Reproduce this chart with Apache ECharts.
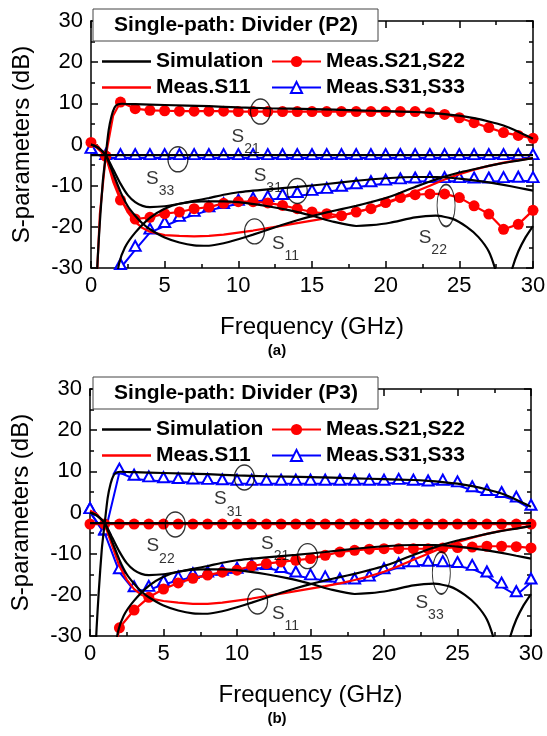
<!DOCTYPE html>
<html>
<head>
<meta charset="utf-8">
<script src="https://cdn.jsdelivr.net/npm/echarts@6/dist/echarts.min.js"></script>
<style>
html, body { margin: 0; padding: 0; background: #fff; }
#chart { width: 547px; height: 736px; }
</style>
</head>
<body>
<div id="chart"></div>
<script>
// simulated curves (same in both panels), [GHz, dB]
var simS21 = [[0.3,-40],[0.45,-28],[0.6,-19],[0.8,-9],[1,-2.6],[1.2,3.5],[1.4,7],[1.6,9],[1.8,9.7],[2.1,9.9],[3,9.8],[5,9.6],[8,9.3],[10,9],[12,8.8],[15,8.6],[18,8.3],[20,8.1],[22,7.9],[23,7.7],[24,7.4],[25,7],[26,6.4],[27,5.6],[28,4.6],[29,3.1],[30,1.4]];
var simFlat = [[0,-2.6],[30,-2.6]];
var simUpper = [[0,0],[0.5,-0.8],[1,-2.6],[1.5,-6],[2,-9.5],[2.5,-12.3],[3,-14],[3.5,-14.9],[4,-15.2],[5,-15],[6,-14.4],[7,-13.7],[8,-13],[9,-12.2],[10,-11.6],[12,-10.9],[14,-10.3],[16,-9.6],[18,-8.8],[20,-8.2],[22,-7.9],[23.5,-7.9],[25,-8.3],[26,-8.7],[27,-9.2],[28,-9.8],[29,-10.5],[30,-11.2]];
var simS11 = [[0,0],[0.5,-0.8],[1,-2.6],[1.5,-7],[2,-11.5],[2.5,-15],[3,-17.3],[3.5,-19.2],[4,-20.6],[5,-22.6],[6,-23.8],[7,-24.5],[8,-24.6],[9,-24],[10,-23],[11,-21.9],[12,-20.7],[13,-19.5],[14,-18.4],[15,-17.4],[16,-16.5],[17,-15.7],[18,-14.9],[19,-14],[20,-13],[21,-11.7],[22,-10.3],[23,-9],[24,-7.8],[25,-6.8],[26,-6],[27,-5.2],[28,-4.5],[29,-3.9],[30,-3.3]];
var simLower = [[1.7,-34],[1.9,-29],[2.3,-25],[3,-21.4],[4,-17.8],[5,-15.6],[6,-14.4],[7.5,-13.8],[9,-13.8],[10,-14],[12,-15],[13.5,-16],[15,-17.3],[16.5,-18.8],[18,-19.8],[19,-19.6],[20.3,-19],[22,-17.7],[23.4,-17.3],[24.5,-18],[25.5,-20],[26.3,-22.5],[27,-26],[27.5,-31],[28,-38],[28.6,-30],[29,-26],[29.5,-22.5],[30,-19.8]];

// panel (a) measurements
var measS21a = [[0.3,-40],[0.6,-17],[1,-2.8],[1.5,7],[2,10.3],[3,8.7],[4,8.3],[5,8.2],[6,8.1],[7,8.1],[8,8.1],[9,8.1],[10,8],[11,8],[12,8],[13,8],[14,8],[15,8],[16,8],[17,8],[18,8],[19,8],[20,8],[21,8],[22,8],[23,7.7],[24,7.3],[25,6.5],[26,5.3],[27,4.1],[28,2.9],[29,2.2],[30,1.5]];
var measS22a = [[0,0.5],[1,-2.8],[1.5,-9],[2,-13.5],[3,-18.1],[4,-17.7],[5,-16.8],[6,-16.4],[7,-15.6],[8,-15.2],[9,-14.3],[10,-13.9],[11,-13.9],[12,-14.2],[13,-14.8],[14,-15.6],[15,-16.4],[16,-16.8],[17,-17.3],[18,-16.4],[19,-15.6],[20,-14.1],[21,-12.9],[22,-12.2],[23,-12],[24,-12],[25,-12.9],[26,-14.9],[27,-16.9],[28,-20.6],[29,-19.4],[30,-16]];
var measS11a = [[0,0.5],[0.5,-0.5],[1,-2.8],[1.5,-8],[2,-13],[2.5,-16.5],[3,-18.8],[3.5,-20.3],[4,-21.2],[5,-22],[6,-22.2],[7,-22.3],[8,-22.2],[9,-21.9],[10,-21.4],[11,-20.9],[12,-20.3],[13,-19.7],[14,-19.1],[15,-18.5],[16,-17.9],[17,-17.2],[18,-16.4],[19,-15.5],[20,-14.4],[21,-13],[22,-11.5],[23,-10],[24,-8.5],[25,-7.2],[26,-6.1],[27,-5.2],[28,-4.4],[29,-3.8],[30,-3.3]];
var measS31a = [[1.9,-33],[2,-30],[3,-25.6],[4,-21.4],[5,-19.8],[6,-18.3],[7,-17.1],[8,-16],[9,-15.2],[10,-14.4],[11,-13.9],[12,-13.5],[13,-13],[14,-12.5],[15,-12],[16,-11.5],[17,-11],[18,-10.4],[19,-9.9],[20,-9.5],[21,-9.2],[22,-9],[23,-8.9],[24,-8.9],[25,-8.9],[26,-9],[27,-9],[28,-8.9],[29,-8.8],[30,-8.9]];
var measS33a = [[0,-1.8],[1,-3.3],[2,-3.3],[3,-3.3],[4,-3.3],[5,-3.3],[6,-3.3],[7,-3.3],[8,-3.3],[9,-3.3],[10,-3.3],[11,-3.3],[12,-3.3],[13,-3.3],[14,-3.3],[15,-3.3],[16,-3.3],[17,-3.3],[18,-3.3],[19,-3.3],[20,-3.3],[21,-3.3],[22,-3.3],[23,-3.3],[24,-3.3],[25,-3.3],[26,-3.3],[27,-3.3],[28,-3.3],[29,-3.3],[30,-3.3]];

// panel (b) measurements
var measS21b = [[1.8,-32],[2,-28],[3,-23.7],[4,-20.6],[5,-18.6],[6,-17.1],[7,-16],[8,-15.2],[9,-14.5],[10,-14],[11,-13],[12,-12.4],[13,-12],[14,-11.6],[15,-11.2],[16,-10.4],[17,-9.6],[18,-9.2],[19,-8.9],[20,-8.8],[21,-8.8],[22,-8.8],[23,-8.8],[24,-8.6],[25,-8.5],[26,-8.4],[27,-8.2],[28,-8.2],[29,-8.3],[30,-8.6]];
var measS22b = [[0,-2.8],[1,-2.8],[2,-2.8],[3,-2.8],[4,-2.8],[5,-2.8],[6,-2.8],[7,-2.8],[8,-2.8],[9,-2.8],[10,-2.8],[11,-2.8],[12,-2.8],[13,-2.8],[14,-2.8],[15,-2.8],[16,-2.8],[17,-2.8],[18,-2.8],[19,-2.8],[20,-2.8],[21,-2.8],[22,-2.8],[23,-2.8],[24,-2.8],[25,-2.8],[26,-2.8],[27,-2.8],[28,-2.8],[29,-2.8],[30,-2.8]];
var measS11b = [[0,0.5],[0.5,-0.5],[1,-2.8],[1.5,-8],[2,-13],[2.5,-16.3],[3,-18.6],[3.5,-20],[4,-20.8],[5,-21.5],[6,-21.9],[7,-22.2],[8,-22.2],[9,-21.9],[10,-21.4],[11,-20.9],[12,-20.3],[13,-19.7],[14,-19.1],[15,-18.5],[16,-17.9],[17,-17.2],[18,-16.4],[19,-15.5],[20,-14.4],[21,-13],[22,-11.5],[23,-10],[24,-8.5],[25,-7.2],[26,-6.1],[27,-5.2],[28,-4.4],[29,-3.8],[30,-3.3]];
var measS31b = [[0,0.1],[1,-5.2],[2,9.7],[3,8.2],[4,7.8],[5,7.6],[6,7.4],[7,7.3],[8,7.2],[9,7.1],[10,7],[11,7],[12,7],[13,7],[14,7],[15,7],[16,7],[17,7],[18,7],[19,7],[20,7],[21,7.2],[22,7],[23,6.8],[24,7],[25,6.6],[26,5.4],[27,4.5],[28,4],[29,2.9],[30,0.9]];
var measS33b = [[0,0.1],[1,-5],[2,-14.5],[3,-18.9],[4,-18.8],[5,-17.5],[6,-16.5],[7,-15.7],[8,-15.3],[9,-14.9],[10,-14.4],[11,-13.6],[12,-13.5],[13,-14.2],[14,-15.3],[15,-16],[16,-16.5],[17,-17],[18,-17],[19,-16.3],[20,-14.5],[21,-13.3],[22,-12.8],[23,-12.7],[24,-12.8],[25,-13],[26,-13.7],[27,-15.3],[28,-18],[29,-20.1],[30,-17]];

// annotation rings and S-parameter tags, [GHz, dB]
var ringsA = [[11.5,8.0],[5.9,-3.6],[14.0,-11.3],[11.1,-21.1]];
var tallRingsA = [[24.1,-14.8]];
var tagsA = [[10.5,1.8,'21'],[4.7,-8.5,'33'],[12.0,-7.6,'31'],[13.2,-24.3,'11'],[23.2,-22.8,'22']];
var ringsB = [[10.5,8.5],[5.8,-2.9],[14.8,-10.6],[11.4,-21.6]];
var tallRingsB = [[23.9,-14.7]];
var tagsB = [[9.4,3.1,'31'],[4.8,-8.3,'22'],[12.6,-7.8,'21'],[13.3,-24.8,'11'],[23.1,-22.0,'33']];

var panelTitles = ['Single-path: Divider (P2)', 'Single-path: Divider (P3)'];
var captions = ['(a)', '(b)'];
var legendCol1 = ['Simulation', 'Meas.S11'];
var legendCol2 = ['Meas.S21,S22', 'Meas.S31,S33'];

var FONT = 'Liberation Sans, Arial, Helvetica, sans-serif';
var RED = '#ff0000', BLUE = '#0000ff';
var ELLIPSE = 'path://M0,1A1,1 0 1,1 2,1A1,1 0 1,1 0,1Z';
var PLAIN_LINE = 'path://M0,0H49V2.6H0Z';

var gridTops = [21, 389];
var gridLefts = [91, 90];
var gridWidths = [442, 441];
var gridH = 247;

function marked(pts) {
	return pts.map(function(p) {
		return Number.isInteger(p[0]) ? p : { value: p, symbol: 'none' };
	});
}

function simLine(data, g) {
	return {
		name: 'Simulation', type: 'line', xAxisIndex: g, yAxisIndex: g,
		data: data, symbol: 'none', smooth: 0.2, silent: true, z: 5,
		lineStyle: { color: '#000', width: 2.2 }, itemStyle: { color: '#000' }
	};
}

function circleLine(data, g) {
	return {
		name: 'Meas.S21,S22', type: 'line', xAxisIndex: g, yAxisIndex: g,
		data: marked(data), symbol: 'circle', symbolSize: 11, silent: true, z: 3,
		lineStyle: { color: RED, width: 2.2 }, itemStyle: { color: RED }
	};
}

function triLine(data, g) {
	return {
		name: 'Meas.S31,S33', type: 'line', xAxisIndex: g, yAxisIndex: g,
		data: marked(data), symbol: 'emptyTriangle', symbolSize: [11, 10], symbolOffset: [0, -4],
		silent: true, z: 2,
		lineStyle: { color: BLUE, width: 2 }, itemStyle: { color: BLUE, borderWidth: 1 }
	};
}

function redLine(data, g) {
	return {
		name: 'Meas.S11', type: 'line', xAxisIndex: g, yAxisIndex: g,
		data: data, symbol: 'none', silent: true, z: 4,
		lineStyle: { color: RED, width: 2.2 }, itemStyle: { color: RED }
	};
}

function ringSeries(data, g, size) {
	return {
		type: 'scatter', xAxisIndex: g, yAxisIndex: g, data: data, silent: true, z: 6,
		symbol: ELLIPSE, symbolSize: size,
		itemStyle: { color: 'rgba(0,0,0,0)', borderColor: '#000', borderWidth: 1.3 }
	};
}

function tagSeries(data, g) {
	return {
		type: 'scatter', xAxisIndex: g, yAxisIndex: g, data: data, silent: true, z: 6,
		symbolSize: 1, itemStyle: { color: 'rgba(0,0,0,0)' },
		label: {
			show: true, position: 'inside', color: '#000',
			formatter: function(p) { return '{s|S}{b|' + p.value[2] + '}'; },
			rich: {
				s: { fontSize: 19, lineHeight: 20, verticalAlign: 'top', fontFamily: FONT, color: '#000' },
				b: { fontSize: 14, lineHeight: 14, padding: [15, 0, 0, 0], verticalAlign: 'top', fontFamily: FONT, color: '#000' }
			}
		}
	};
}

function xAx(g, pos) {
	var bottom = pos === 'bottom';
	return {
		type: 'value', gridIndex: g, position: pos, min: 0, max: 30, interval: 5,
		axisLine: { onZero: false, lineStyle: { color: '#000', width: 1.5 } },
		axisTick: { inside: true, length: 7, lineStyle: { color: '#000', width: 1.5 } },
		minorTick: { show: true, splitNumber: 2, length: 4, lineStyle: { color: '#000', width: 1.5 } },
		splitLine: { show: false },
		axisLabel: { show: bottom, fontSize: 22, color: '#000', margin: 7, fontFamily: FONT },
		name: bottom ? 'Frequency (GHz)' : '', nameLocation: 'middle', nameGap: 47,
		nameTextStyle: { fontSize: 24, color: '#000', fontFamily: FONT }
	};
}

function yAx(g, pos) {
	var left = pos === 'left';
	return {
		type: 'value', gridIndex: g, position: pos, min: -30, max: 30, interval: 10,
		axisLine: { onZero: false, lineStyle: { color: '#000', width: 1.5 } },
		axisTick: { inside: true, length: 7, lineStyle: { color: '#000', width: 1.5 } },
		minorTick: { show: true, splitNumber: 2, length: 4, lineStyle: { color: '#000', width: 1.5 } },
		splitLine: { show: false },
		axisLabel: { show: left, fontSize: 22, color: '#000', margin: 8, fontFamily: FONT },
		name: left ? 'S-parameters (dB)' : '', nameLocation: 'middle', nameGap: 57,
		nameTextStyle: { fontSize: 24, color: '#000', fontFamily: FONT }
	};
}

function legendCol(names, g, left) {
	return {
		data: names.map(function(n) {
			return (n === 'Simulation' || n === 'Meas.S11') ? { name: n, icon: PLAIN_LINE } : n;
		}),
		orient: 'vertical', left: left, top: gridTops[g] + 25,
		itemWidth: 49, itemHeight: 14, itemGap: 5, selectedMode: false,
		textStyle: { fontSize: 21, fontWeight: 'bold', color: '#000', fontFamily: FONT }
	};
}

function titleBox(g) {
	var top = gridTops[g] - 12;
	return [{
		type: 'rect', x: 93, y: top, z: 100,
		shape: { x: 0, y: 0, width: 285, height: 32 },
		style: { fill: '#fff', stroke: '#444', lineWidth: 1 }
	}, {
		type: 'text', x: 236, y: top + 16, z: 101,
		style: { text: panelTitles[g], font: 'bold 21px ' + FONT, fill: '#000', align: 'center', verticalAlign: 'middle' }
	}, {
		type: 'text', x: 277, y: gridTops[g] + 330, z: 101,
		style: { text: captions[g], font: 'bold 15px ' + FONT, fill: '#000', align: 'center', verticalAlign: 'middle' }
	}];
}

var series = [];
[0, 1].forEach(function(g) {
	var m = g === 0
		? { s31: measS31a, s33: measS33a, s11: measS11a, c1: measS21a, c2: measS22a, rings: ringsA, tall: tallRingsA, tags: tagsA }
		: { s31: measS31b, s33: measS33b, s11: measS11b, c1: measS21b, c2: measS22b, rings: ringsB, tall: tallRingsB, tags: tagsB };
	series.push(triLine(m.s31, g), triLine(m.s33, g), redLine(m.s11, g), circleLine(m.c1, g), circleLine(m.c2, g));
	series.push(simLine(simS21, g), simLine(simFlat, g), simLine(simUpper, g), simLine(simS11, g), simLine(simLower, g));
	series.push(ringSeries(m.rings, g, [20, 25]), ringSeries(m.tall, g, [18, 42]), tagSeries(m.tags, g));
});

var chart = echarts.init(document.getElementById('chart'), null, { renderer: 'canvas' });
chart.setOption({
	backgroundColor: '#fff',
	animation: false,
	textStyle: { fontFamily: FONT },
	grid: [0, 1].map(function(g) {
		return { left: gridLefts[g], top: gridTops[g], width: gridWidths[g], height: gridH, containLabel: false, outerBoundsMode: 'none' };
	}),
	xAxis: [xAx(0, 'bottom'), xAx(1, 'bottom'), xAx(0, 'top'), xAx(1, 'top')],
	yAxis: [yAx(0, 'left'), yAx(1, 'left'), yAx(0, 'right'), yAx(1, 'right')],
	legend: [legendCol(legendCol1, 0, 97), legendCol(legendCol2, 0, 266), legendCol(legendCol1, 1, 97), legendCol(legendCol2, 1, 266)],
	graphic: titleBox(0).concat(titleBox(1)),
	series: series
});
</script>
</body>
</html>
